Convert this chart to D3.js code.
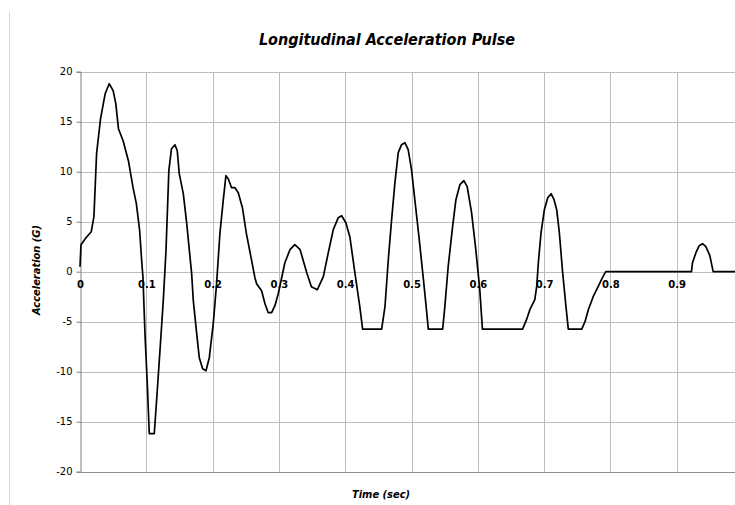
<!DOCTYPE html>
<html><head><meta charset="utf-8">
<script src="https://cdnjs.cloudflare.com/ajax/libs/d3/7.8.5/d3.min.js"></script>
<style>
html,body{margin:0;padding:0;background:#fff;}
svg{display:block;}
</style></head>
<body>
<svg id="c" width="735" height="505"></svg>
<script>
const time = [0, 0.0015, 0.009, 0.017, 0.021, 0.025, 0.031, 0.038, 0.044, 0.050, 0.054, 0.058, 0.065, 0.073, 0.080, 0.085, 0.090, 0.093, 0.095, 0.098, 0.1015, 0.1045, 0.112, 0.1155, 0.1206, 0.1256, 0.1297, 0.134, 0.138, 0.1432, 0.1467, 0.1497, 0.1558, 0.161, 0.1684, 0.1709, 0.176, 0.1799, 0.185, 0.19, 0.195, 0.201, 0.206, 0.211, 0.216, 0.2201, 0.2236, 0.2286, 0.2337, 0.2387, 0.245, 0.251, 0.2589, 0.2638, 0.2664, 0.2739, 0.279, 0.2839, 0.289, 0.294, 0.299, 0.309, 0.3167, 0.324, 0.332, 0.342, 0.349, 0.358, 0.367, 0.3745, 0.382, 0.3896, 0.3946, 0.401, 0.407, 0.4146, 0.422, 0.4263, 0.455, 0.46, 0.465, 0.47, 0.475, 0.48, 0.485, 0.49, 0.495, 0.5, 0.505, 0.5117, 0.518, 0.523, 0.5253, 0.547, 0.5503, 0.5553, 0.562, 0.567, 0.573, 0.579, 0.584, 0.5906, 0.597, 0.603, 0.607, 0.6675, 0.6735, 0.6785, 0.686, 0.689, 0.6913, 0.6954, 0.7004, 0.7055, 0.7105, 0.715, 0.719, 0.723, 0.728, 0.733, 0.7365, 0.7567, 0.7617, 0.7667, 0.774, 0.7815, 0.788, 0.793, 0.9223, 0.9238, 0.929, 0.934, 0.939, 0.944, 0.95, 0.955, 1.0];
const accel = [0.5, 2.7, 3.4, 4.0, 5.5, 11.8, 15.3, 17.8, 18.8, 18.1, 16.8, 14.3, 13.1, 11.1, 8.4, 6.8, 4.1, 1.1, -0.6, -6.2, -11.2, -16.2, -16.2, -12.9, -7.9, -2.9, 2.1, 10.1, 12.3, 12.7, 12.1, 9.8, 7.8, 4.8, -0.2, -2.9, -6.2, -8.6, -9.7, -9.9, -8.6, -5.2, -1.2, 3.8, 7.1, 9.6, 9.3, 8.4, 8.4, 7.9, 6.4, 3.8, 1.1, -0.6, -1.2, -1.9, -3.2, -4.1, -4.1, -3.4, -2.2, 0.9, 2.2, 2.7, 2.2, -0.1, -1.5, -1.8, -0.5, 1.9, 4.2, 5.4, 5.6, 4.9, 3.5, -0.1, -3.5, -5.75, -5.75, -3.5, 1.2, 5.2, 8.9, 11.9, 12.7, 12.9, 12.2, 10.2, 7.2, 3.2, -0.8, -4.1, -5.75, -5.75, -3.5, 0.5, 4.5, 7.2, 8.7, 9.1, 8.5, 5.9, 2.2, -1.8, -5.75, -5.75, -4.8, -3.8, -2.8, -1.4, 0.9, 3.9, 6.2, 7.4, 7.8, 7.2, 6.2, 3.9, -0.1, -3.5, -5.75, -5.75, -5.0, -3.8, -2.5, -1.5, -0.6, 0, 0, 0.9, 1.9, 2.6, 2.8, 2.5, 1.6, 0, 0];
const xTicks = [0, 0.1, 0.2, 0.3, 0.4, 0.5, 0.6, 0.7, 0.8, 0.9];
const xGrid = [0.1, 0.2, 0.3, 0.4, 0.5, 0.6, 0.7, 0.8, 0.9];
const yTicks = [-20, -15, -10, -5, 0, 5, 10, 15, 20];
const titleText = "Longitudinal Acceleration Pulse";
const xTitle = "Time (sec)";
const yTitle = "Acceleration (G)";

const svg = d3.select("#c");
const x = d3.scaleLinear().domain([0, 1]).range([80, 743]);
const y = d3.scaleLinear().domain([-20, 20]).range([471.7, 71.7]);

// outer frame line
svg.append("line").attr("x1", 9.5).attr("x2", 9.5).attr("y1", 12).attr("y2", 505)
  .attr("stroke", "#d8d8d8").attr("stroke-width", 1);

// horizontal gridlines
svg.append("g").selectAll("line").data(yTicks).join("line")
  .attr("x1", x(0)).attr("x2", 735)
  .attr("y1", d => Math.round(y(d)) + 0.5).attr("y2", d => Math.round(y(d)) + 0.5)
  .attr("stroke", d => d === -20 ? "#909090" : "#bdbdbd").attr("stroke-width", 1);
// vertical gridlines
svg.append("g").selectAll("line").data(xGrid).join("line")
  .attr("x1", d => Math.round(x(d)) + 0.5).attr("x2", d => Math.round(x(d)) + 0.5)
  .attr("y1", y(20)).attr("y2", y(-20))
  .attr("stroke", "#bdbdbd").attr("stroke-width", 1);

// y axis
const yAxis = d3.axisLeft(y).tickValues(yTicks).tickSize(4).tickPadding(4).tickFormat(d => String(d));
const gy = svg.append("g").attr("transform", `translate(${Math.round(x(0)) + 0.5},0)`).call(yAxis);
gy.select(".domain").attr("stroke", "#808080");
gy.selectAll(".tick line").attr("stroke", "#808080");
gy.selectAll(".tick text").attr("font-family", "DejaVu Sans, Verdana, sans-serif")
  .attr("font-size", 10).attr("fill", "#000");

// x tick labels at the zero line
const xAxis = d3.axisBottom(x).tickValues(xTicks).tickSize(0).tickPadding(14).tickFormat(d => String(d));
const gx = svg.append("g").attr("transform", `translate(0,${Math.round(y(0)) + 0.5})`).call(xAxis);
gx.select(".domain").remove();
gx.selectAll(".tick text").attr("font-family", "DejaVu Sans, Verdana, sans-serif")
  .attr("font-size", 10).attr("font-weight", "bold").attr("fill", "#000").attr("dy", "0.1em");

// curve
const pts = time.map((t, i) => [t, accel[i]]);
svg.append("path").datum(pts)
  .attr("d", d3.line().x(d => x(d[0])).y(d => y(d[1])))
  .attr("fill", "none").attr("stroke", "#000").attr("stroke-width", 1.7).attr("stroke-linejoin", "round");

// titles
svg.append("text").attr("x", 387).attr("y", 45).attr("text-anchor", "middle")
  .attr("font-family", "DejaVu Sans Condensed, sans-serif")
  .attr("font-size", 16).attr("font-weight", "bold").attr("font-style", "italic").text(titleText);
svg.append("text").attr("x", 381).attr("y", 498).attr("text-anchor", "middle")
  .attr("font-family", "DejaVu Sans Condensed, sans-serif")
  .attr("font-size", 11).attr("font-weight", "bold").attr("font-style", "italic").text(xTitle);
svg.append("text").attr("transform", "translate(40,270) rotate(-90)").attr("text-anchor", "middle")
  .attr("font-family", "DejaVu Sans Condensed, sans-serif")
  .attr("font-size", 11).attr("font-weight", "bold").attr("font-style", "italic").text(yTitle);
</script>
</body></html>
